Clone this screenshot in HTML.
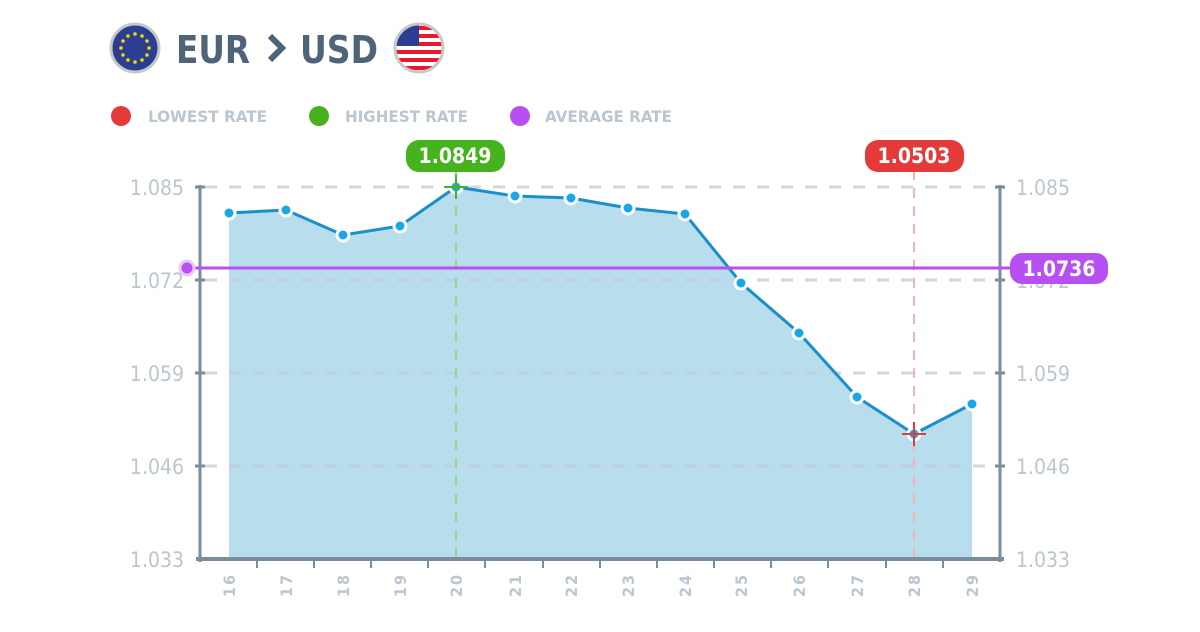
<!DOCTYPE html>
<html><head><style>
body{margin:0;background:#fff;font-family:"DejaVu Sans Condensed","Liberation Sans",sans-serif;}
</style></head><body>
<svg width="1200" height="628" xmlns="http://www.w3.org/2000/svg" font-family="DejaVu Sans Condensed, Liberation Sans, sans-serif">
<!-- header -->
<circle cx="135" cy="48" r="24" fill="#2c3e91" stroke="#c8c8c8" stroke-width="3"/>
<g fill="#f5d90a">
<circle cx="135" cy="34" r="1.8"/><circle cx="142" cy="36" r="1.8"/><circle cx="147" cy="41" r="1.8"/><circle cx="149" cy="48" r="1.8"/><circle cx="147" cy="55" r="1.8"/><circle cx="142" cy="60" r="1.8"/><circle cx="135" cy="62" r="1.8"/><circle cx="128" cy="60" r="1.8"/><circle cx="123" cy="55" r="1.8"/><circle cx="121" cy="48" r="1.8"/><circle cx="123" cy="41" r="1.8"/><circle cx="128" cy="36" r="1.8"/>
</g>
<text x="176" y="63" font-size="38" font-weight="bold" fill="#4f6479" textLength="74" lengthAdjust="spacingAndGlyphs">EUR</text>
<path d="M270 36 L282 48 L270 60" stroke="#4f6479" stroke-width="6" fill="none"/>
<text x="300" y="63" font-size="38" font-weight="bold" fill="#4f6479" textLength="78" lengthAdjust="spacingAndGlyphs">USD</text>
<defs><clipPath id="us"><circle cx="419" cy="48" r="23"/></clipPath></defs>
<g clip-path="url(#us)">
<rect x="395" y="24" width="50" height="50" fill="#fff"/>
<g fill="#e8192c"><rect x="395" y="26" width="50" height="4"/><rect x="395" y="34" width="50" height="4"/><rect x="395" y="42" width="50" height="4"/><rect x="395" y="50" width="50" height="4"/><rect x="395" y="58" width="50" height="4"/><rect x="395" y="66" width="50" height="4"/></g>
<rect x="395" y="24" width="24" height="22" fill="#2c3e91"/>
</g>
<circle cx="419" cy="48" r="24" fill="none" stroke="#c8c8c8" stroke-width="3"/>
<!-- legend -->
<circle cx="121" cy="116" r="10" fill="#e53a3a"/>
<text x="148" y="122" font-size="16" font-weight="bold" fill="#bcc6cf" textLength="119" lengthAdjust="spacingAndGlyphs">LOWEST RATE</text>
<circle cx="319" cy="116" r="10" fill="#46b31e"/>
<text x="345" y="122" font-size="16" font-weight="bold" fill="#bcc6cf" textLength="123" lengthAdjust="spacingAndGlyphs">HIGHEST RATE</text>
<circle cx="520" cy="116" r="10" fill="#b84ff2"/>
<text x="545" y="122" font-size="16" font-weight="bold" fill="#bcc6cf" textLength="127" lengthAdjust="spacingAndGlyphs">AVERAGE RATE</text>
<!-- area -->
<path d="M229 213 L286 210 L343 235 L400 226 L456 187 L515 196 L571 198 L628 208 L685 214 L741 283 L799 333 L857 397 L914 434 L972 404 L972 559 L229 559 Z" fill="#b8dded"/>
<!-- grid -->
<g stroke="#c5ccd3" stroke-width="3" stroke-dasharray="12 12" opacity="0.75">
<line x1="205" y1="187" x2="995" y2="187"/><line x1="205" y1="280" x2="995" y2="280"/><line x1="205" y1="373" x2="995" y2="373"/><line x1="205" y1="466" x2="995" y2="466"/>
</g>
<line x1="456" y1="170" x2="456" y2="559" stroke="#8fd68a" stroke-width="2" stroke-dasharray="10 8"/>
<line x1="914" y1="170" x2="914" y2="559" stroke="#f2b3b3" stroke-width="2" stroke-dasharray="10 8"/>
<!-- axes -->
<g stroke="#7a8d9c" stroke-width="3">
<line x1="200" y1="185" x2="200" y2="562"/><line x1="1000" y1="185" x2="1000" y2="562"/>
<line x1="196" y1="559" x2="1004" y2="559" stroke-width="4"/>
<line x1="195" y1="187" x2="205" y2="187"/><line x1="195" y1="280" x2="205" y2="280"/><line x1="195" y1="373" x2="205" y2="373"/><line x1="195" y1="466" x2="205" y2="466"/>
<line x1="995" y1="187" x2="1005" y2="187"/><line x1="995" y1="280" x2="1005" y2="280"/><line x1="995" y1="373" x2="1005" y2="373"/><line x1="995" y1="466" x2="1005" y2="466"/>
</g>
<g stroke="#7a8d9c" stroke-width="2">
<line x1="257" y1="559" x2="257" y2="568"/><line x1="314" y1="559" x2="314" y2="568"/><line x1="371" y1="559" x2="371" y2="568"/><line x1="428" y1="559" x2="428" y2="568"/><line x1="485" y1="559" x2="485" y2="568"/><line x1="543" y1="559" x2="543" y2="568"/><line x1="600" y1="559" x2="600" y2="568"/><line x1="657" y1="559" x2="657" y2="568"/><line x1="714" y1="559" x2="714" y2="568"/><line x1="771" y1="559" x2="771" y2="568"/><line x1="828" y1="559" x2="828" y2="568"/><line x1="886" y1="559" x2="886" y2="568"/><line x1="943" y1="559" x2="943" y2="568"/>
</g>
<g font-size="21" fill="#bcc6cf">
<text x="184" y="195" text-anchor="end">1.085</text><text x="184" y="288" text-anchor="end">1.072</text><text x="184" y="381" text-anchor="end">1.059</text><text x="184" y="474" text-anchor="end">1.046</text><text x="184" y="567" text-anchor="end">1.033</text>
<text x="1016" y="195">1.085</text><text x="1016" y="288">1.072</text><text x="1016" y="381">1.059</text><text x="1016" y="474">1.046</text><text x="1016" y="567">1.033</text>
</g>
<g font-size="16" fill="#bcc6cf" font-weight="bold" text-anchor="end" letter-spacing="2">
<text transform="translate(235,573) rotate(-90)">16</text><text transform="translate(292,573) rotate(-90)">17</text><text transform="translate(349,573) rotate(-90)">18</text><text transform="translate(406,573) rotate(-90)">19</text><text transform="translate(462,573) rotate(-90)">20</text><text transform="translate(521,573) rotate(-90)">21</text><text transform="translate(577,573) rotate(-90)">22</text><text transform="translate(634,573) rotate(-90)">23</text><text transform="translate(691,573) rotate(-90)">24</text><text transform="translate(747,573) rotate(-90)">25</text><text transform="translate(805,573) rotate(-90)">26</text><text transform="translate(863,573) rotate(-90)">27</text><text transform="translate(920,573) rotate(-90)">28</text><text transform="translate(978,573) rotate(-90)">29</text>
</g>
<!-- line -->
<polyline points="229,213 286,210 343,235 400,226 456,187 515,196 571,198 628,208 685,214 741,283 799,333 857,397 914,434 972,404" fill="none" stroke="#1b8fc9" stroke-width="3"/>
<g fill="#1aa7ea" stroke="#fff" stroke-width="3">
<circle cx="229" cy="213" r="6"/><circle cx="286" cy="210" r="6"/><circle cx="343" cy="235" r="6"/><circle cx="400" cy="226" r="6"/><circle cx="456" cy="187" r="6"/><circle cx="515" cy="196" r="6"/><circle cx="571" cy="198" r="6"/><circle cx="628" cy="208" r="6"/><circle cx="685" cy="214" r="6"/><circle cx="741" cy="283" r="6"/><circle cx="799" cy="333" r="6"/><circle cx="857" cy="397" r="6"/><circle cx="914" cy="434" r="6"/><circle cx="972" cy="404" r="6"/>
</g>
<path d="M444 187 H468 M456 175 V199" stroke="#46b31e" stroke-width="2"/>
<path d="M902 434 H926 M914 422 V446" stroke="#e53a3a" stroke-width="2"/>
<!-- average -->
<line x1="187" y1="268" x2="1015" y2="268" stroke="#b84ff2" stroke-width="3"/>
<circle cx="187" cy="268" r="7" fill="#b84ff2" stroke="#e9c9fb" stroke-width="3"/>
<rect x="1010" y="253" width="98" height="31" rx="12" fill="#b84ff2"/>
<text x="1059" y="276" font-size="21" font-weight="bold" fill="#fff" text-anchor="middle">1.0736</text>
<!-- pills -->
<rect x="406" y="140" width="99" height="32" rx="13" fill="#46b31e"/>
<text x="455" y="163" font-size="21" font-weight="bold" fill="#fff" text-anchor="middle">1.0849</text>
<rect x="865" y="140" width="99" height="32" rx="13" fill="#e53a3a"/>
<text x="914" y="163" font-size="21" font-weight="bold" fill="#fff" text-anchor="middle">1.0503</text>
</svg>
</body></html>
